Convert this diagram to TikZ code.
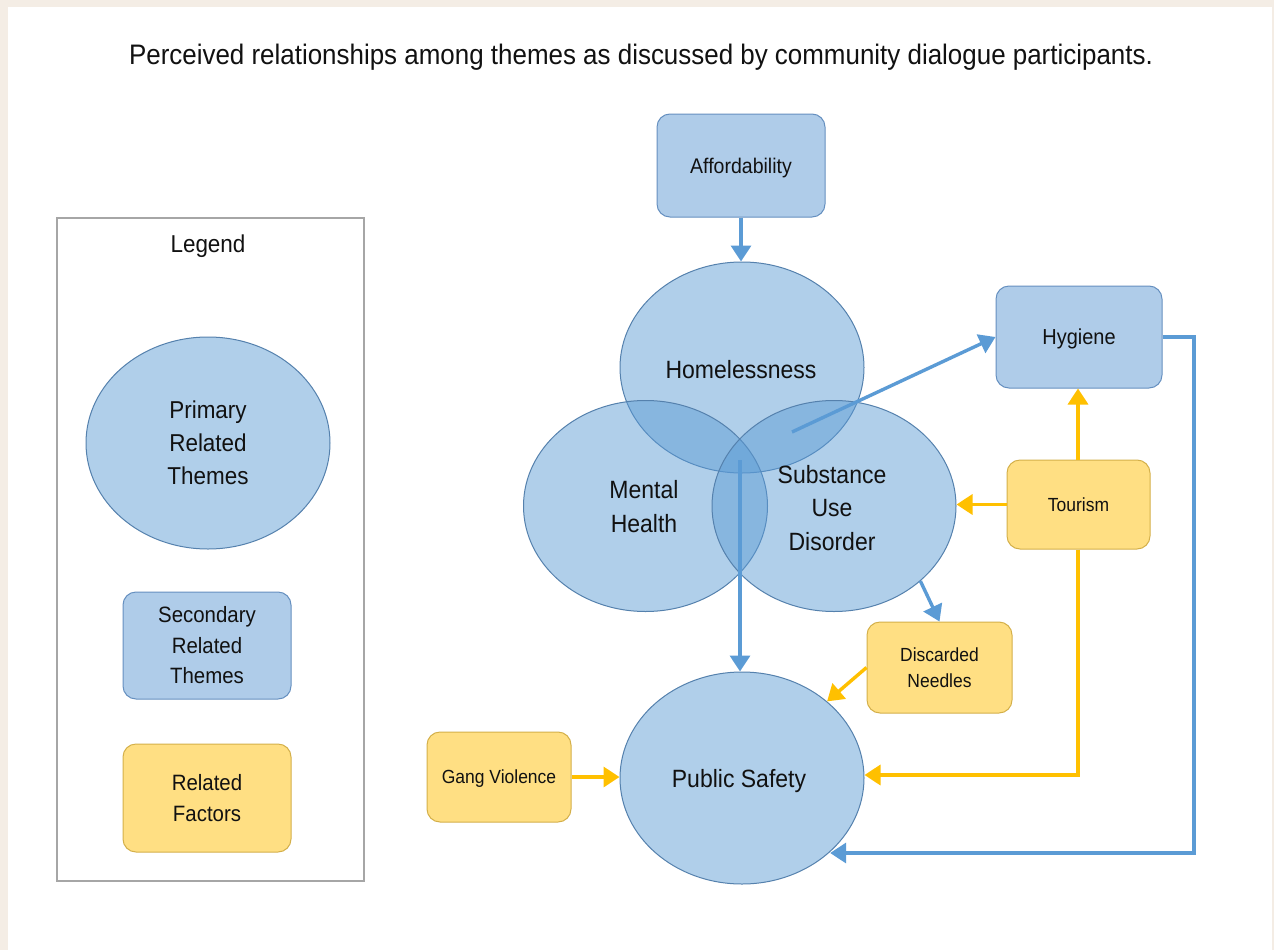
\documentclass[tikz,border=0pt]{standalone}
\usepackage{fontspec}
\setmainfont{Liberation Sans}[FakeStretch=0.92]
\usetikzlibrary{arrows.meta,positioning,shapes.geometric}
\definecolor{beige}{HTML}{F4EDE5}
\definecolor{bluefill}{HTML}{AFCCE9}
\definecolor{bluebase}{HTML}{5B9BD5}
\definecolor{blueline}{HTML}{5B9BD5}
\definecolor{ellstroke}{HTML}{5581AD}
\definecolor{boxstroke}{HTML}{6690C0}
\definecolor{yelfill}{HTML}{FFDF83}
\definecolor{yelstroke}{HTML}{D4B04A}
\definecolor{yelline}{HTML}{FFC000}
\definecolor{legstroke}{HTML}{A6A6A6}
\definecolor{txt}{HTML}{111111}
\tikzset{
  primary/.style={ellipse, draw=ellstroke, line width=1pt, fill=bluebase, fill opacity=0.48, text opacity=1, minimum width=244pt, inner sep=0pt, align=center, text=txt, font=\fontsize{25}{33}\selectfont},
  secbox/.style={rounded corners=13pt, draw=boxstroke, line width=1pt, fill=bluefill, inner sep=0pt, align=center, text=txt},
  facbox/.style={rounded corners=13pt, draw=yelstroke, line width=1pt, fill=yelfill, inner sep=0pt, align=center, text=txt},
  barrow/.style={draw=blueline, line width=3.4pt, -{Triangle[width=20pt,length=16pt]}},
  yarrow/.style={draw=yelline, line width=3.4pt, -{Triangle[width=20pt,length=16pt]}},
}
\begin{document}
\begin{tikzpicture}[x=1pt,y=-1pt]
\useasboundingbox (0,0) rectangle (1274,950);
\fill[beige] (0,0) rectangle (1274,950);
\fill[white] (8,7) rectangle (1272,950);

% title
\node[text=txt, text depth=0pt, font=\fontsize{28.2}{32}\selectfont] (title) at (641,54) {Perceived relationships among themes as discussed by community dialogue participants.};

% legend
\node[draw=legstroke, line width=2pt, minimum width=307pt, minimum height=663pt, inner sep=0pt] (legend) at (210.5,549.5) {};
\node[text=txt, font=\fontsize{24.4}{27}\selectfont] (legtitle) at (208,246) {Legend};
\node[primary, minimum height=212pt, font=\fontsize{24.4}{33}\selectfont] (legprim) at (208,443) {Primary\\Related\\Themes};
\node[secbox, minimum width=168pt, minimum height=107pt, font=\fontsize{22.2}{30.5}\selectfont] (legsec) at (207,645.5) {Secondary\\Related\\Themes};
\node[facbox, minimum width=168pt, minimum height=108pt, font=\fontsize{22.2}{31}\selectfont] (legfac) at (207,798) {Related\\Factors};

% primary themes
\node[primary, minimum height=211pt] (home) at (742,367.5) {};
\node[primary, minimum height=211pt] (mental) at (645.5,506) {};
\node[primary, minimum height=211pt] (sud) at (834,506) {};
\node[primary, minimum height=212pt] (safety) at (742,778) {};
\node[text=txt, font=\fontsize{25}{33}\selectfont] (hometxt) at (741,370) {Homelessness};
\node[text=txt, font=\fontsize{25}{34}\selectfont, align=center] (mentaltxt) at (644,507) {Mental\\Health};
\node[text=txt, font=\fontsize{25}{33.5}\selectfont, align=center] (sudtxt) at (832,508) {Substance\\Use\\Disorder};
\node[text=txt, text depth=0pt, font=\fontsize{25}{33}\selectfont] (safetytxt) at (739,778) {Public Safety};

% secondary
\node[secbox, text depth=0pt, minimum width=168pt, minimum height=103pt, font=\fontsize{21.2}{24}\selectfont] (afford) at (741,165.5) {Affordability};
\node[secbox, text depth=0pt, minimum width=166pt, minimum height=102pt, font=\fontsize{21.7}{24}\selectfont] (hygiene) at (1079,337) {Hygiene};

% factors
\node[facbox, minimum width=143pt, minimum height=89pt, font=\fontsize{19}{21}\selectfont] (tourism) at (1078.5,504.5) {Tourism};
\node[facbox, minimum width=145pt, minimum height=91pt, font=\fontsize{19}{26}\selectfont] (needles) at (939.5,667.5) {Discarded\\Needles};
\node[facbox, text depth=0pt, minimum width=144pt, minimum height=90pt, font=\fontsize{19}{21}\selectfont] (gang) at (499,777) {Gang Violence};

% connectors
\coordinate (overlapA) at (792,432);
\coordinate (overlapB) at (740,460);
\coordinate (hygR) at (1194,337);
\coordinate (hygD) at (1194,853);
\coordinate (tourD) at (1078,775);

\draw[barrow] (afford.south) -- (afford.south |- home.north);
\draw[barrow] (overlapA) -- (hygiene.west);
\draw[barrow] (overlapB) -- (safety.north -| overlapB);
\draw[barrow] (sud.-41) -- (needles.north);
\draw[barrow] (hygiene.east) -- (hygR) -- (hygD) -- (hygD -| safety.-40);

\draw[yarrow] (tourism.south -| tourD) -- (tourD) -- (safety.east |- tourD);
\draw[yarrow] (tourism.north -| tourD) -- (tourD |- hygiene.south);
\draw[yarrow] (tourism.west) -- (tourism.west -| sud.east);
\draw[yarrow] (needles.west) -- (safety.42);
\draw[yarrow] (gang.east) -- (gang.east -| safety.west);
\end{tikzpicture}
\end{document}
